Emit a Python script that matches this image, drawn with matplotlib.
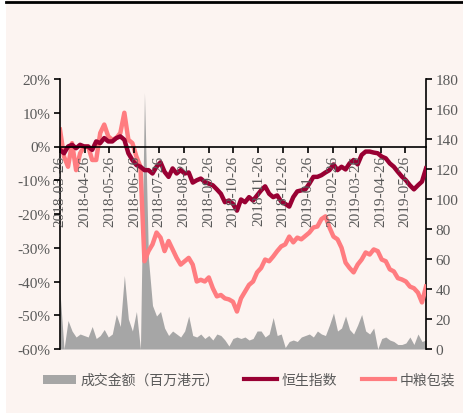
import matplotlib
matplotlib.use("Agg")
import matplotlib.pyplot as plt
import matplotlib.dates as mdates
from matplotlib.ticker import FuncFormatter, MultipleLocator
from matplotlib.patches import Rectangle, Patch
from matplotlib.lines import Line2D
import pandas as pd

start_date = "2018-03-26"
end_date = "2019-06-21"

hsi_pct = [-1, -2, 0, 0.5, -0.5, 0.5, 0, 0, -1, 1.5, 1, 2.5, 1.5, 1.5, 2.5, 3, 2, -2, -4, -5.5,
           -6, -7, -7, -8, -6, -4.7, -7.5, -9, -6.5, -8, -7, -8, -7.7, -10.7, -10, -9.5, -10.5, -11,
           -11.5, -12.7, -14, -16.5, -16, -17, -19, -15.7, -16.5, -15, -16, -14.5, -13, -11.8, -14,
           -15, -14.5, -16.3, -17, -17.8, -15, -13.3, -13, -12.7, -11, -9, -9, -8.5, -7.7, -7, -5.3,
           -7, -6, -6.8, -5, -4, -5.3, -2.5, -1.5, -1.5, -1.8, -2, -3, -3.5, -5, -6, -7.5, -8.9,
           -10, -11.5, -12.7, -11.5, -10.4, -6.5]

cpmc_pct = [5, -3, -6, 1, -7, -2, 0, 0, -4, -4, 4, 6.5, 3, 2, 2.5, 4, 10, 2, 1, -3,
            -6, -34, -31, -29, -25.5, -27, -31, -28, -30.5, -33, -35, -34, -33, -35, -40, -39.5,
            -40, -38.8, -42, -44.4, -44, -45, -45.3, -46, -48.9, -45, -43, -41, -40, -37.3, -36,
            -33.5, -34, -32.6, -31, -29.6, -29, -26.7, -28.4, -27, -27.5, -26.5, -25.5, -24,
            -23.7, -21.5, -20.7, -24, -26.7, -27.5, -30, -34.4, -36, -37.3, -35, -33.5, -31.4,
            -32, -30.5, -31, -33.5, -34, -36.4, -37, -39, -39.4, -40, -41.5, -42, -43.3, -46.2, -41.5]

volume_mhkd = [38, 0, 19, 12, 8, 10, 9, 8, 15, 7, 9, 13, 8, 10, 23, 15, 49, 20, 12, 25,
               0, 171, 60, 29, 22, 25, 14, 9, 12, 10, 8, 12, 22, 9, 8, 10, 7, 9, 6, 10,
               9, 6, 2, 7, 8, 7, 8, 6, 7, 12, 12, 8, 10, 21, 9, 10, 1, 5, 6, 5,
               8, 9, 10, 8, 12, 10, 9, 16, 24, 12, 14, 22, 13, 10, 16, 23, 12, 10, 14, 0,
               7, 8, 6, 5, 3, 3, 4, 8, 3, 10, 5, 6]

tick_dates = ["2018-03-26", "2018-04-26", "2018-05-26", "2018-06-26", "2018-07-26",
              "2018-08-26", "2018-09-26", "2018-10-26", "2018-11-26", "2018-12-26",
              "2019-01-26", "2019-02-26", "2019-03-26", "2019-04-26", "2019-05-26"]

legend_labels = ["成交金额（百万港元）", "恒生指数", "中粮包装"]

dates = pd.date_range(start_date, end_date, periods=len(hsi_pct))

BG = "#FCF4F1"
C_HSI = "#990033"
C_CPMC = "#FF7C80"
C_VOL = "#A6A6A6"
TXT = "#595959"
SERIF = ["Liberation Serif", "DejaVu Serif"]
CJK = ["Noto Sans CJK SC", "DejaVu Sans"]

fig = plt.figure(figsize=(4.64, 4.14), dpi=100, facecolor=BG)
ax = fig.add_axes([60/464, 1-350/414, 366/464, 270/414])
axv = ax.twinx()
ax.set_zorder(axv.get_zorder() + 1)
ax.patch.set_visible(False)
axv.patch.set_facecolor(BG)

# volume area
axv.fill_between(dates, 0, volume_mhkd, color=C_VOL, lw=0)
axv.set_ylim(0, 180)
axv.yaxis.set_major_locator(MultipleLocator(20))

# lines
ax.plot(dates, cpmc_pct, color=C_CPMC, lw=3.2, solid_joinstyle="round")
ax.plot(dates, hsi_pct, color=C_HSI, lw=3.2, solid_joinstyle="round")
ax.set_ylim(-60, 20)
ax.yaxis.set_major_locator(MultipleLocator(10))
ax.yaxis.set_major_formatter(FuncFormatter(lambda v, p: f"{int(round(v))}%"))
ax.set_xlim(dates[0], dates[-1])
axv.set_xlim(dates[0], dates[-1])

ax.set_xticks(pd.to_datetime(tick_dates))
ax.xaxis.set_major_formatter(mdates.DateFormatter("%Y-%m-%d"))
ax.set_axisbelow(False)

for a in (ax, axv):
    a.spines["top"].set_visible(False)
ax.spines["right"].set_visible(False)
axv.spines["left"].set_visible(False)
axv.spines["bottom"].set_visible(False)
ax.spines["bottom"].set_position(("data", 0))
for s in ("left", "bottom"):
    ax.spines[s].set_color("black")
    ax.spines[s].set_linewidth(1.2)
axv.spines["right"].set_color("black")
axv.spines["right"].set_linewidth(1.2)

ax.tick_params(axis="y", direction="out", length=4, width=1.2, color="black",
               labelsize=11, labelcolor=TXT, pad=3)
ax.tick_params(axis="x", direction="out", length=4, width=1.2, color="black",
               labelsize=11, labelcolor=TXT, pad=2, labelrotation=90)
axv.tick_params(axis="y", direction="out", length=4, width=1.2, color="black",
                labelsize=11, labelcolor=TXT, pad=3)
for lbl in ax.get_xticklabels() + ax.get_yticklabels() + axv.get_yticklabels():
    lbl.set_fontfamily(SERIF)
for lbl in ax.get_xticklabels():
    lbl.set_va("top")

# decorations: white strip at left, black rule at top
fig.patches.append(Rectangle((0, 0), 6/464, 1, transform=fig.transFigure,
                             facecolor="white", edgecolor="none", zorder=-1))
fig.lines.append(Line2D([6/464, 1], [1-3/414, 1-3/414], transform=fig.transFigure,
                        color="black", lw=2.0))

handles = [Patch(facecolor=C_VOL, edgecolor="none"),
           Line2D([0], [0], color=C_HSI, lw=3),
           Line2D([0], [0], color=C_CPMC, lw=3)]
leg = fig.legend(handles, legend_labels, loc="center", ncol=3,
                 bbox_to_anchor=(249/464, 1-381/414), frameon=False,
                 prop={"family": CJK, "size": 10}, handlelength=2.4,
                 handleheight=0.6, handletextpad=0.3, columnspacing=1.8)
for t in leg.get_texts():
    t.set_color(TXT)

fig.savefig("out.png", dpi=100, facecolor=BG)
